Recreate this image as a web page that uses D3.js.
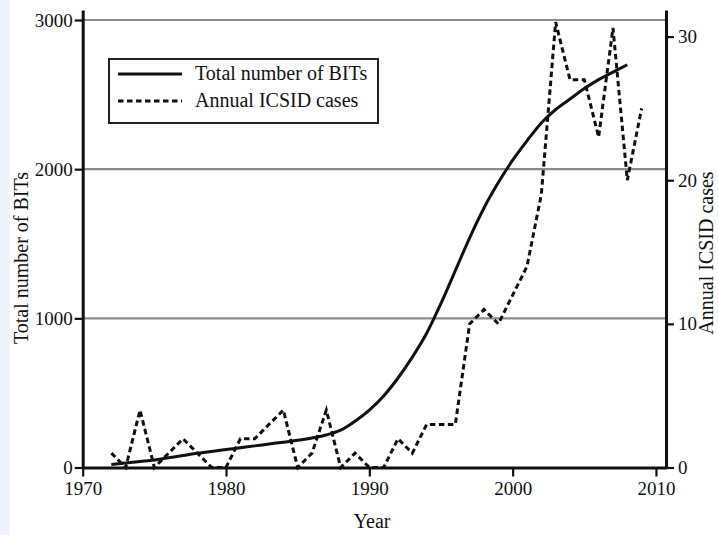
<!DOCTYPE html>
<meta charset="utf-8">
<style>
    html, body { margin: 0; padding: 0; background: #fff; }
    svg text { font-family: "Liberation Serif", "Times New Roman", serif; fill: #111; }
</style>
<body>
<script src="https://cdn.jsdelivr.net/npm/d3@7"></script>
<svg id="chart" width="718" height="535"></svg>
<script>
  // data
  var years = [1972, 1973, 1974, 1975, 1976, 1977, 1978, 1979, 1980, 1981, 1982, 1983, 1984,
    1985, 1986, 1987, 1988, 1989, 1990, 1991, 1992, 1993, 1994, 1995, 1996, 1997, 1998,
    1999, 2000, 2001, 2002, 2003, 2004, 2005, 2006, 2007, 2008, 2009];
  var totalBITs = [20, 30, 40, 50, 65, 80, 95, 108, 120, 132, 145, 157, 170,
    182, 198, 218, 250, 310, 385, 480, 600, 740, 900, 1100, 1320, 1540, 1740,
    1910, 2060, 2190, 2310, 2400, 2470, 2540, 2600, 2650, 2700];
  var icsidCases = [1, 0, 4, 0, 1, 2, 1, 0, 0, 2, 2, 3, 4,
    0, 1, 4, 0, 1, 0, 0, 2, 1, 3, 3, 3, 10, 11,
    10, 12, 14, 19, 31, 27, 27, 23, 30.6, 20, 25];
  var xTicks = [1970, 1980, 1990, 2000, 2010];
  var leftTicks = [0, 1000, 2000, 3000];
  var rightTicks = [0, 10, 20, 30];
  var gridValues = [1000, 2000, 3000];
  var legendLabels = ["Total number of BITs", "Annual ICSID cases"];

  var svg = d3.select("#chart");

  // faint blue strip on the left edge of the scan
  svg.append("rect").attr("x", 0).attr("y", 0).attr("width", 10).attr("height", 535)
    .attr("fill", "#eef4fc");

  var x = d3.scaleLinear().domain([1970, 2010.7]).range([82.7, 666]);
  var yL = d3.scaleLinear().domain([0, 3067]).range([467.5, 10]);
  var yR = d3.scaleLinear().domain([0, 31.85]).range([467.5, 10]);

  // gridlines
  svg.append("g").selectAll("line").data(gridValues).enter().append("line")
    .attr("x1", x.range()[0]).attr("x2", x.range()[1])
    .attr("y1", function (d) { return yL(d); })
    .attr("y2", function (d) { return yL(d); })
    .attr("stroke", "#8c8c8c").attr("stroke-width", 2.2);

  var bits = d3.line()
    .x(function (d, i) { return x(years[i]); })
    .y(function (d) { return yL(d); })
    .curve(d3.curveMonotoneX);
  var cases = d3.line()
    .x(function (d, i) { return x(years[i]); })
    .y(function (d) { return yR(d); });

  svg.append("path").attr("d", cases(icsidCases))
    .attr("fill", "none").attr("stroke", "#111").attr("stroke-width", 3)
    .attr("stroke-dasharray", "5.5,3.5");
  svg.append("path").attr("d", bits(totalBITs))
    .attr("fill", "none").attr("stroke", "#111").attr("stroke-width", 3);

  // axes
  function styleAxis(g) {
    g.select(".domain").attr("stroke", "#111").attr("stroke-width", 3);
    g.selectAll(".tick line").attr("stroke", "#111").attr("stroke-width", 2.2);
    g.selectAll(".tick text").attr("font-size", 19).attr("fill", "#111");
  }
  svg.append("g").attr("transform", "translate(0," + yL(0) + ")")
    .call(d3.axisBottom(x).tickValues(xTicks).tickFormat(d3.format("d"))
      .tickSize(9).tickSizeOuter(0).tickPadding(5))
    .call(styleAxis);
  svg.append("g").attr("transform", "translate(" + x(1970) + ",0)")
    .call(d3.axisLeft(yL).tickValues(leftTicks).tickFormat(d3.format("d"))
      .tickSize(8).tickSizeOuter(0).tickPadding(2))
    .call(styleAxis);
  svg.append("g").attr("transform", "translate(" + x.range()[1] + ",0)")
    .call(d3.axisRight(yR).tickValues(rightTicks).tickFormat(d3.format("d"))
      .tickSize(8).tickSizeOuter(0).tickPadding(4))
    .call(styleAxis);

  // axis titles
  svg.append("text").attr("x", 372).attr("y", 528).attr("text-anchor", "middle")
    .attr("font-size", 20).text("Year");
  svg.append("text").attr("transform", "translate(28,258) rotate(-90)")
    .attr("text-anchor", "middle").attr("font-size", 20).text("Total number of BITs");
  svg.append("text").attr("transform", "translate(713,253) rotate(-90)")
    .attr("text-anchor", "middle").attr("font-size", 20).text("Annual ICSID cases");

  // legend
  var lg = svg.append("g");
  lg.append("rect").attr("x", 109).attr("y", 59).attr("width", 269).attr("height", 64)
    .attr("fill", "#fff").attr("stroke", "#222").attr("stroke-width", 2);
  legendLabels.forEach(function (label, i) {
    var ly = 74 + i * 27;
    lg.append("line").attr("x1", 118).attr("x2", 182).attr("y1", ly).attr("y2", ly)
      .attr("stroke", "#111").attr("stroke-width", 3)
      .attr("stroke-dasharray", i ? "5.5,3.5" : null);
    lg.append("text").attr("x", 195).attr("y", ly + 6).attr("font-size", 20).text(label);
  });
</script>
</body>
